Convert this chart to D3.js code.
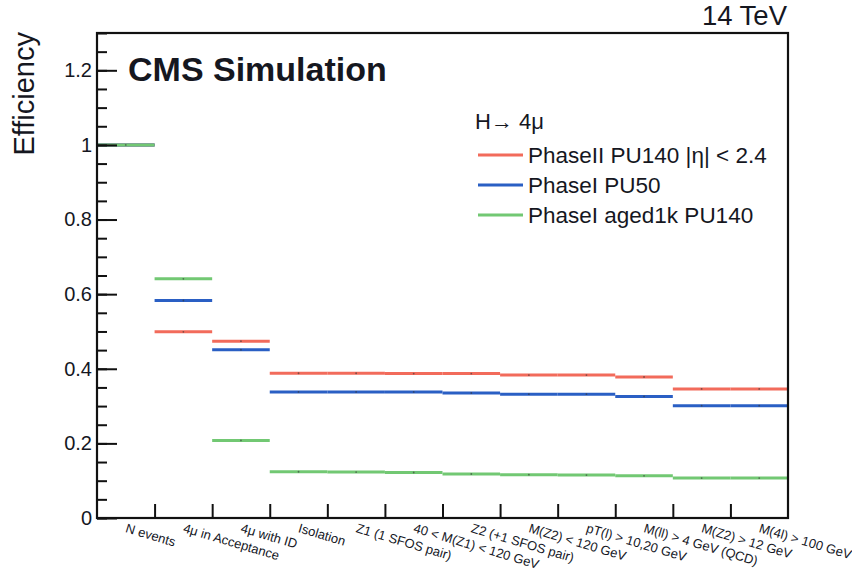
<!DOCTYPE html>
<html><head><meta charset="utf-8">
<script src="https://cdn.jsdelivr.net/npm/d3@7"></script>
<style>body{margin:0;background:#fff}svg text{font-family:"Liberation Sans",Arial,Helvetica,sans-serif;fill:#15171f}</style>
</head><body><svg id="c" width="852" height="577"></svg>
<script>
const categories = ["N events","4\u03bc in Acceptance","4\u03bc with ID","Isolation","Z1 (1 SFOS pair)","40 < M(Z1) < 120 GeV","Z2 (+1 SFOS pair)","M(Z2) < 120 GeV","pT(l) > 10,20 GeV","M(ll) > 4 GeV (QCD)","M(Z2) > 12 GeV","M(4l) > 100 GeV"];
const phase2PU140 = [1.0,0.499,0.474,0.388,0.388,0.387,0.387,0.383,0.383,0.378,0.346,0.346];
const phase1PU50  = [1.0,0.583,0.451,0.338,0.338,0.338,0.335,0.332,0.332,0.326,0.301,0.301];
const phase1Aged  = [1.0,0.641,0.208,0.124,0.123,0.122,0.118,0.116,0.115,0.113,0.107,0.107];
const seriesNames = ["PhaseII PU140 |\u03b7| < 2.4","PhaseI PU50","PhaseI aged1k PU140"];
const yTicks = [0,0.2,0.4,0.6,0.8,1,1.2];

const colors = ["#f26b5b","#2a5fc4","#72c873"];
const series = [phase2PU140, phase1PU50, phase1Aged];

const svg = d3.select("#c");
const L=97, R=788, T=33, B=518;
const x = d3.scaleLinear().domain([0,categories.length]).range([L,R]);
const y = d3.scaleLinear().domain([0,1.3]).range([B,T]);

// series
series.forEach((vals,si)=>{
  svg.append("g").selectAll("line").data(vals).join("line")
    .attr("x1",(d,i)=>x(i)).attr("x2",(d,i)=>x(i+1))
    .attr("y1",d=>y(d)).attr("y2",d=>y(d))
    .attr("stroke",colors[si]).attr("stroke-width",3);
  svg.append("g").selectAll("circle").data(vals).join("circle")
    .attr("cx",(d,i)=>x(i+0.5)).attr("cy",d=>y(d)).attr("r",0.9)
    .attr("fill","#333").attr("opacity",0.6);
});

// y axis major and minor
const minor = d3.range(0,1.3001,0.05).map(v=>+v.toFixed(2));
const gyMinor = svg.append("g").attr("transform",`translate(${L},0)`)
  .call(d3.axisLeft(y).tickValues(minor).tickSize(-10).tickFormat(""));
const gy = svg.append("g").attr("transform",`translate(${L},0)`)
  .call(d3.axisLeft(y).tickValues(yTicks).tickSize(-20).tickPadding(5).tickFormat(d=>d3.format("")(+d.toFixed(1))));
[gy,gyMinor].forEach(g=>{g.select(".domain").remove();g.selectAll("line").attr("stroke","#111").attr("stroke-width",2);});
gy.selectAll("text").attr("font-size",20).attr("fill","#1c1f28").style("font-family","Liberation Sans, Arial, sans-serif");

// x axis ticks
const gx = svg.append("g").attr("transform",`translate(0,${B})`)
  .call(d3.axisBottom(x).tickValues(d3.range(1,categories.length)).tickSize(-14).tickFormat(""));
gx.select(".domain").remove();
gx.selectAll("line").attr("stroke","#111").attr("stroke-width",2);

// x labels
svg.append("g").selectAll("text").data(categories).join("text")
  .attr("transform",(d,i)=>`translate(${x(i+0.5)-1},${B+14}) rotate(16.5)`)
  .attr("font-size",13).attr("fill","#1c1f28").text(d=>d);

// frame
svg.append("rect").attr("x",L).attr("y",T).attr("width",R-L).attr("height",B-T)
  .attr("fill","none").attr("stroke","#111").attr("stroke-width",2.2);

// titles
svg.append("text").attr("transform",`translate(34,32) rotate(-90)`).attr("text-anchor","end")
  .attr("font-size",29).text("Efficiency");
svg.append("text").attr("x",787).attr("y",25).attr("text-anchor","end").attr("font-size",27.5).text("14 TeV");
svg.append("text").attr("x",128).attr("y",81).attr("font-size",34).attr("font-weight","bold").text("CMS Simulation");

// legend
svg.append("text").attr("x",475).attr("y",129).attr("font-size",22).text("H\u2192 4\u03bc");
const lg = svg.append("g").selectAll("g").data(seriesNames).join("g")
  .attr("transform",(d,i)=>`translate(0,${155+i*30})`);
lg.append("line").attr("x1",478).attr("x2",523).attr("y1",0).attr("y2",0)
  .attr("stroke",(d,i)=>colors[i]).attr("stroke-width",3);
lg.append("text").attr("x",528).attr("y",8).attr("font-size",22.5).text(d=>d);
</script></body></html>
